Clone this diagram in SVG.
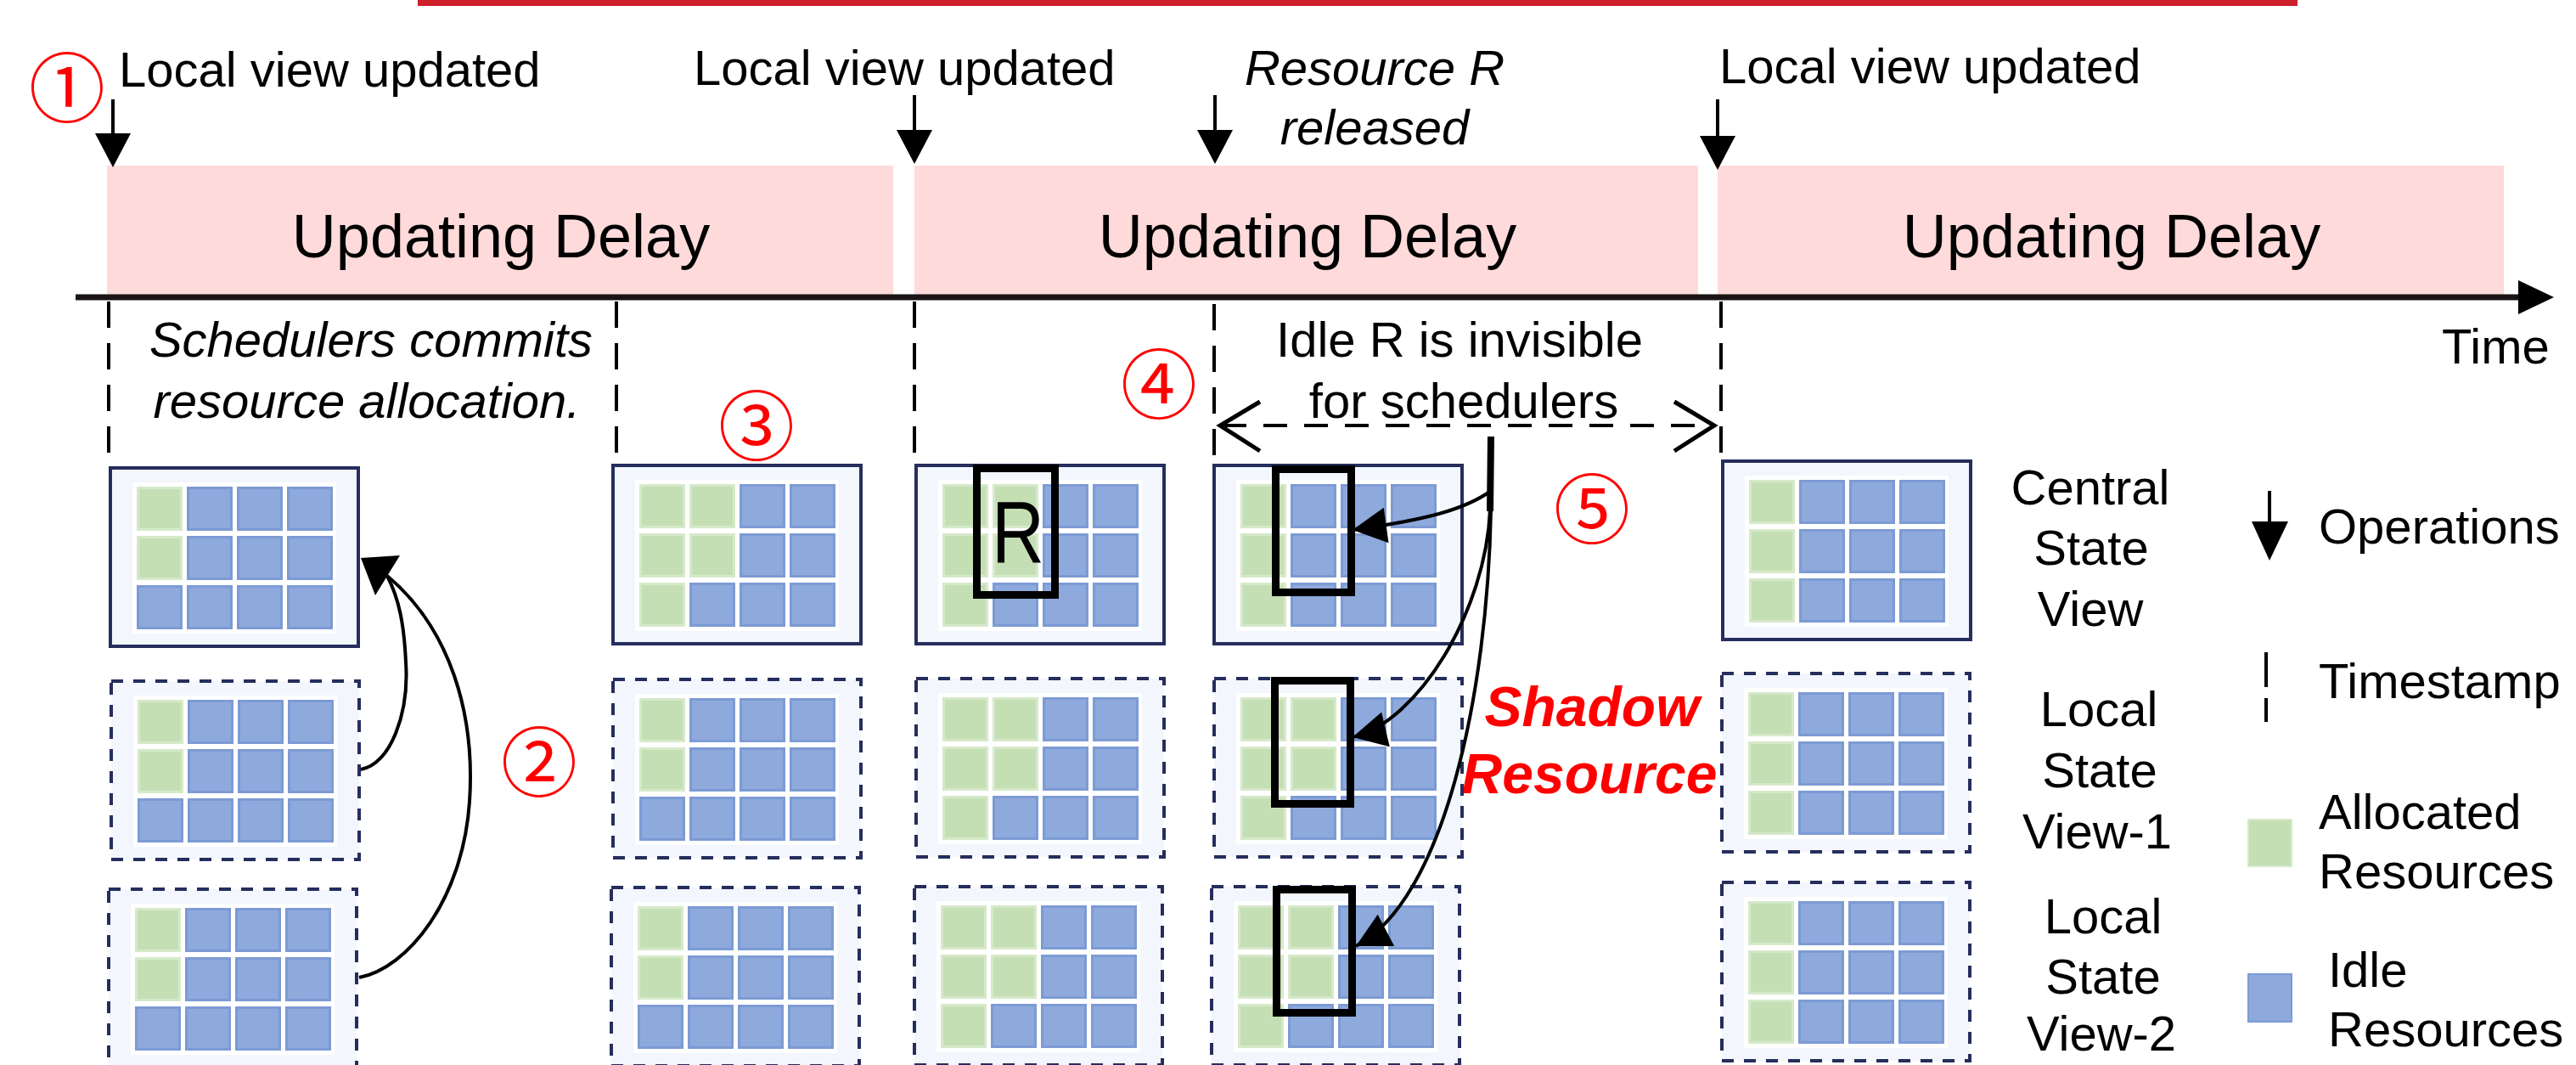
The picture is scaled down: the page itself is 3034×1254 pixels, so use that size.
<svg xmlns="http://www.w3.org/2000/svg" width="3034" height="1254" viewBox="0 0 3034 1254">
<style>
  text { font-family: "Liberation Sans", Arial, sans-serif; fill: #000; }
  .lbl { font-size: 58px; }
  .it { font-style: italic; }
  .mid { text-anchor: middle; }
  .delay { font-size: 72px; text-anchor: middle; }
  .num { font-family: "Noto Sans CJK JP", "Noto Sans CJK SC", sans-serif; font-size: 90px; fill: #FF0000; text-anchor: middle; }
  .shadow { font-size: 66px; font-weight: bold; font-style: italic; fill: #FF0000; text-anchor: middle; }
  .band { fill: #FFDADA; }
  .frame { fill: #F3F6FD; stroke: #252E5C; stroke-width: 4; }
  .frame.local { stroke-dasharray: 14 12; }
  .pad { fill: #FFFFFF; }
  .tick { stroke: #000; stroke-width: 4; stroke-dasharray: 31 18; fill: none; }
  .op { stroke: #000; stroke-width: 4; fill: none; }
  .curve { stroke: #000; stroke-width: 4; fill: none; }
  .mark { fill: none; stroke: #000; stroke-width: 9; }
</style>
<defs>
  <rect id="G" x="1.5" y="1.5" width="51" height="49" fill="#C5DFB4" stroke="#D6E9CA" stroke-width="3"/>
  <rect id="B" x="1.5" y="1.5" width="51" height="49" fill="#8EA9DB" stroke="#7C9BD5" stroke-width="3"/>
  <marker id="head" markerUnits="userSpaceOnUse" markerWidth="50" markerHeight="50" refX="40" refY="21" orient="auto" overflow="visible">
    <path d="M0,0 L40,21 L0,42 z" fill="#000"/>
  </marker>
</defs>

<!-- top rule -->
<rect x="492" y="0" width="2214" height="7" fill="#CD202C"/>

<!-- updating delay bands -->
<g id="delay-1"><rect class="band" x="126" y="195" width="926" height="152"/><text class="delay" x="590" y="303">Updating Delay</text></g>
<g id="delay-2"><rect class="band" x="1077" y="195" width="923" height="152"/><text class="delay" x="1540" y="303">Updating Delay</text></g>
<g id="delay-3"><rect class="band" x="2023" y="195" width="926" height="152"/><text class="delay" x="2487" y="303">Updating Delay</text></g>

<!-- operation labels -->
<g id="op-labels">
  <text class="lbl" x="140" y="102">Local view updated</text>
  <text class="lbl" x="817" y="100">Local view updated</text>
  <text class="lbl it mid" x="1619" y="100">Resource R</text>
  <text class="lbl it mid" x="1619" y="170">released</text>
  <text class="lbl" x="2025" y="98">Local view updated</text>
  <text class="lbl" x="2876" y="428">Time</text>
</g>

<!-- step markers -->
<g id="steps">
  <text class="num" x="79" y="137">①</text>
  <text class="num" x="635" y="931">②</text>
  <text class="num" x="891" y="535">③</text>
  <text class="num" x="1365" y="486">④</text>
  <text class="num" x="1875" y="633">⑤</text>
</g>

<!-- annotations -->
<g id="notes">
  <text class="lbl it mid" x="437" y="420">Schedulers commits</text>
  <text class="lbl it mid" x="432" y="492">resource allocation.</text>
  <text class="lbl mid" x="1719" y="420">Idle R is invisible</text>
  <text class="lbl mid" x="1724" y="492">for schedulers</text>
  <text class="shadow" x="1875" y="855">Shadow</text>
  <text class="shadow" x="1872" y="934">Resource</text>
</g>

<!-- state view boxes -->
<g id="c1-central" transform="translate(128,549)">
  <rect class="frame" x="2" y="2" width="292" height="210"/><rect class="pad" x="28" y="19" width="240" height="178"/>
  <use href="#G" x="33" y="24"/><use href="#B" x="92" y="24"/><use href="#B" x="151" y="24"/><use href="#B" x="210" y="24"/>
  <use href="#G" x="33" y="82"/><use href="#B" x="92" y="82"/><use href="#B" x="151" y="82"/><use href="#B" x="210" y="82"/>
  <use href="#B" x="33" y="140"/><use href="#B" x="92" y="140"/><use href="#B" x="151" y="140"/><use href="#B" x="210" y="140"/>
</g>
<g id="c1-local1" transform="translate(129,800)">
  <rect class="frame local" x="2" y="2" width="292" height="210"/><rect class="pad" x="28" y="19" width="240" height="178"/>
  <use href="#G" x="33" y="24"/><use href="#B" x="92" y="24"/><use href="#B" x="151" y="24"/><use href="#B" x="210" y="24"/>
  <use href="#G" x="33" y="82"/><use href="#B" x="92" y="82"/><use href="#B" x="151" y="82"/><use href="#B" x="210" y="82"/>
  <use href="#B" x="33" y="140"/><use href="#B" x="92" y="140"/><use href="#B" x="151" y="140"/><use href="#B" x="210" y="140"/>
</g>
<g id="c1-local2" transform="translate(126,1045)">
  <rect class="frame local" x="2" y="2" width="292" height="210"/><rect class="pad" x="28" y="19" width="240" height="178"/>
  <use href="#G" x="33" y="24"/><use href="#B" x="92" y="24"/><use href="#B" x="151" y="24"/><use href="#B" x="210" y="24"/>
  <use href="#G" x="33" y="82"/><use href="#B" x="92" y="82"/><use href="#B" x="151" y="82"/><use href="#B" x="210" y="82"/>
  <use href="#B" x="33" y="140"/><use href="#B" x="92" y="140"/><use href="#B" x="151" y="140"/><use href="#B" x="210" y="140"/>
</g>

<g id="c2-central" transform="translate(720,546)">
  <rect class="frame" x="2" y="2" width="292" height="210"/><rect class="pad" x="28" y="19" width="240" height="178"/>
  <use href="#G" x="33" y="24"/><use href="#G" x="92" y="24"/><use href="#B" x="151" y="24"/><use href="#B" x="210" y="24"/>
  <use href="#G" x="33" y="82"/><use href="#G" x="92" y="82"/><use href="#B" x="151" y="82"/><use href="#B" x="210" y="82"/>
  <use href="#G" x="33" y="140"/><use href="#B" x="92" y="140"/><use href="#B" x="151" y="140"/><use href="#B" x="210" y="140"/>
</g>
<g id="c2-local1" transform="translate(720,798)">
  <rect class="frame local" x="2" y="2" width="292" height="210"/><rect class="pad" x="28" y="19" width="240" height="178"/>
  <use href="#G" x="33" y="24"/><use href="#B" x="92" y="24"/><use href="#B" x="151" y="24"/><use href="#B" x="210" y="24"/>
  <use href="#G" x="33" y="82"/><use href="#B" x="92" y="82"/><use href="#B" x="151" y="82"/><use href="#B" x="210" y="82"/>
  <use href="#B" x="33" y="140"/><use href="#B" x="92" y="140"/><use href="#B" x="151" y="140"/><use href="#B" x="210" y="140"/>
</g>
<g id="c2-local2" transform="translate(718,1043)">
  <rect class="frame local" x="2" y="2" width="292" height="210"/><rect class="pad" x="28" y="19" width="240" height="178"/>
  <use href="#G" x="33" y="24"/><use href="#B" x="92" y="24"/><use href="#B" x="151" y="24"/><use href="#B" x="210" y="24"/>
  <use href="#G" x="33" y="82"/><use href="#B" x="92" y="82"/><use href="#B" x="151" y="82"/><use href="#B" x="210" y="82"/>
  <use href="#B" x="33" y="140"/><use href="#B" x="92" y="140"/><use href="#B" x="151" y="140"/><use href="#B" x="210" y="140"/>
</g>

<g id="c3-central" transform="translate(1077,546)">
  <rect class="frame" x="2" y="2" width="292" height="210"/><rect class="pad" x="28" y="19" width="240" height="178"/>
  <use href="#G" x="33" y="24"/><use href="#G" x="92" y="24"/><use href="#B" x="151" y="24"/><use href="#B" x="210" y="24"/>
  <use href="#G" x="33" y="82"/><use href="#G" x="92" y="82"/><use href="#B" x="151" y="82"/><use href="#B" x="210" y="82"/>
  <use href="#G" x="33" y="140"/><use href="#B" x="92" y="140"/><use href="#B" x="151" y="140"/><use href="#B" x="210" y="140"/>
  <rect class="mark" x="73.5" y="5.5" width="92" height="149"/>
  <text x="122" y="117" font-size="104" text-anchor="middle" textLength="62" lengthAdjust="spacingAndGlyphs">R</text>
</g>
<g id="c3-local1" transform="translate(1077,797)">
  <rect class="frame local" x="2" y="2" width="292" height="210"/><rect class="pad" x="28" y="19" width="240" height="178"/>
  <use href="#G" x="33" y="24"/><use href="#G" x="92" y="24"/><use href="#B" x="151" y="24"/><use href="#B" x="210" y="24"/>
  <use href="#G" x="33" y="82"/><use href="#G" x="92" y="82"/><use href="#B" x="151" y="82"/><use href="#B" x="210" y="82"/>
  <use href="#G" x="33" y="140"/><use href="#B" x="92" y="140"/><use href="#B" x="151" y="140"/><use href="#B" x="210" y="140"/>
</g>
<g id="c3-local2" transform="translate(1075,1042)">
  <rect class="frame local" x="2" y="2" width="292" height="210"/><rect class="pad" x="28" y="19" width="240" height="178"/>
  <use href="#G" x="33" y="24"/><use href="#G" x="92" y="24"/><use href="#B" x="151" y="24"/><use href="#B" x="210" y="24"/>
  <use href="#G" x="33" y="82"/><use href="#G" x="92" y="82"/><use href="#B" x="151" y="82"/><use href="#B" x="210" y="82"/>
  <use href="#G" x="33" y="140"/><use href="#B" x="92" y="140"/><use href="#B" x="151" y="140"/><use href="#B" x="210" y="140"/>
</g>

<g id="c4-central" transform="translate(1428,546)">
  <rect class="frame" x="2" y="2" width="292" height="210"/><rect class="pad" x="28" y="19" width="240" height="178"/>
  <use href="#G" x="33" y="24"/><use href="#B" x="92" y="24"/><use href="#B" x="151" y="24"/><use href="#B" x="210" y="24"/>
  <use href="#G" x="33" y="82"/><use href="#B" x="92" y="82"/><use href="#B" x="151" y="82"/><use href="#B" x="210" y="82"/>
  <use href="#G" x="33" y="140"/><use href="#B" x="92" y="140"/><use href="#B" x="151" y="140"/><use href="#B" x="210" y="140"/>
  <rect class="mark" x="74.5" y="6.5" width="89" height="145"/>
</g>
<g id="c4-local1" transform="translate(1428,797)">
  <rect class="frame local" x="2" y="2" width="292" height="210"/><rect class="pad" x="28" y="19" width="240" height="178"/>
  <use href="#G" x="33" y="24"/><use href="#G" x="92" y="24"/><use href="#B" x="151" y="24"/><use href="#B" x="210" y="24"/>
  <use href="#G" x="33" y="82"/><use href="#G" x="92" y="82"/><use href="#B" x="151" y="82"/><use href="#B" x="210" y="82"/>
  <use href="#G" x="33" y="140"/><use href="#B" x="92" y="140"/><use href="#B" x="151" y="140"/><use href="#B" x="210" y="140"/>
  <rect class="mark" x="73.5" y="4.5" width="89" height="145"/>
</g>
<g id="c4-local2" transform="translate(1425,1042)">
  <rect class="frame local" x="2" y="2" width="292" height="210"/><rect class="pad" x="28" y="19" width="240" height="178"/>
  <use href="#G" x="33" y="24"/><use href="#G" x="92" y="24"/><use href="#B" x="151" y="24"/><use href="#B" x="210" y="24"/>
  <use href="#G" x="33" y="82"/><use href="#G" x="92" y="82"/><use href="#B" x="151" y="82"/><use href="#B" x="210" y="82"/>
  <use href="#G" x="33" y="140"/><use href="#B" x="92" y="140"/><use href="#B" x="151" y="140"/><use href="#B" x="210" y="140"/>
  <rect class="mark" x="78.5" y="5.5" width="89" height="145"/>
</g>

<g id="c5-central" transform="translate(2027,541)">
  <rect class="frame" x="2" y="2" width="292" height="210"/><rect class="pad" x="28" y="19" width="240" height="178"/>
  <use href="#G" x="33" y="24"/><use href="#B" x="92" y="24"/><use href="#B" x="151" y="24"/><use href="#B" x="210" y="24"/>
  <use href="#G" x="33" y="82"/><use href="#B" x="92" y="82"/><use href="#B" x="151" y="82"/><use href="#B" x="210" y="82"/>
  <use href="#G" x="33" y="140"/><use href="#B" x="92" y="140"/><use href="#B" x="151" y="140"/><use href="#B" x="210" y="140"/>
</g>
<g id="c5-local1" transform="translate(2026,791)">
  <rect class="frame local" x="2" y="2" width="292" height="210"/><rect class="pad" x="28" y="19" width="240" height="178"/>
  <use href="#G" x="33" y="24"/><use href="#B" x="92" y="24"/><use href="#B" x="151" y="24"/><use href="#B" x="210" y="24"/>
  <use href="#G" x="33" y="82"/><use href="#B" x="92" y="82"/><use href="#B" x="151" y="82"/><use href="#B" x="210" y="82"/>
  <use href="#G" x="33" y="140"/><use href="#B" x="92" y="140"/><use href="#B" x="151" y="140"/><use href="#B" x="210" y="140"/>
</g>
<g id="c5-local2" transform="translate(2026,1037)">
  <rect class="frame local" x="2" y="2" width="292" height="210"/><rect class="pad" x="28" y="19" width="240" height="178"/>
  <use href="#G" x="33" y="24"/><use href="#B" x="92" y="24"/><use href="#B" x="151" y="24"/><use href="#B" x="210" y="24"/>
  <use href="#G" x="33" y="82"/><use href="#B" x="92" y="82"/><use href="#B" x="151" y="82"/><use href="#B" x="210" y="82"/>
  <use href="#G" x="33" y="140"/><use href="#B" x="92" y="140"/><use href="#B" x="151" y="140"/><use href="#B" x="210" y="140"/>
</g>

<!-- row labels -->
<g id="row-labels">
  <text class="lbl mid" x="2462" y="594">Central</text>
  <text class="lbl mid" x="2463" y="665">State</text>
  <text class="lbl mid" x="2462" y="737">View</text>
  <text class="lbl mid" x="2472" y="855">Local</text>
  <text class="lbl mid" x="2473" y="927">State</text>
  <text class="lbl mid" x="2470" y="999">View-1</text>
  <text class="lbl mid" x="2477" y="1099">Local</text>
  <text class="lbl mid" x="2477" y="1170">State</text>
  <text class="lbl mid" x="2475" y="1237">View-2</text>
</g>

<!-- legend -->
<g id="legend">
  <line class="op" x1="2673" y1="578" x2="2673" y2="618"/>
  <polygon points="2652,614 2695,614 2673,660" fill="#000"/>
  <text class="lbl" x="2731" y="640">Operations</text>
  <line x1="2669" y1="768" x2="2669" y2="809" stroke="#000" stroke-width="4"/>
  <line x1="2669" y1="822" x2="2669" y2="850" stroke="#000" stroke-width="4"/>
  <text class="lbl" x="2731" y="822">Timestamp</text>
  <rect x="2648" y="965" width="51" height="55" fill="#C5DFB4" stroke="#D6E9CA" stroke-width="2"/>
  <text class="lbl" x="2731" y="976">Allocated</text>
  <text class="lbl" x="2731" y="1046">Resources</text>
  <rect x="2648" y="1147" width="51" height="56" fill="#8EA9DB" stroke="#7C9BD5" stroke-width="2"/>
  <text class="lbl" x="2742" y="1162">Idle</text>
  <text class="lbl" x="2742" y="1232">Resources</text>
</g>

<!-- connectors -->
<g id="connectors">
  <!-- time axis -->
  <line x1="89" y1="350" x2="2970" y2="350" stroke="#1A1414" stroke-width="7"/>
  <polygon points="2966,330 3008,350 2966,370" fill="#000"/>
  <!-- operation arrows -->
  <line class="op" x1="133" y1="117" x2="133" y2="160"/><polygon points="112,157 154,157 133,197" fill="#000"/>
  <line class="op" x1="1077" y1="112" x2="1077" y2="156"/><polygon points="1056,153 1098,153 1077,193" fill="#000"/>
  <line class="op" x1="1431" y1="112" x2="1431" y2="156"/><polygon points="1410,153 1452,153 1431,193" fill="#000"/>
  <line class="op" x1="2023" y1="117" x2="2023" y2="163"/><polygon points="2002,160 2044,160 2023,200" fill="#000"/>
  <!-- timestamps -->
  <line class="tick" x1="128" y1="355" x2="128" y2="540"/>
  <line class="tick" x1="726" y1="355" x2="726" y2="540"/>
  <line class="tick" x1="1077" y1="355" x2="1077" y2="540"/>
  <line class="tick" x1="1430" y1="358" x2="1430" y2="540"/>
  <line class="tick" x1="2027" y1="355" x2="2027" y2="536"/>
  <!-- invisibility span -->
  <line x1="1440" y1="501" x2="2016" y2="501" stroke="#000" stroke-width="4" stroke-dasharray="28 20"/>
  <polyline points="1484,473 1437,501 1484,531" fill="none" stroke="#000" stroke-width="5"/>
  <polyline points="1972,473 2019,501 1972,531" fill="none" stroke="#000" stroke-width="5"/>
  <!-- commit arrows -->
  <path class="curve" d="M425,906 C460,900 482,840 478,780 C476,735 470,705 456,678"/>
  <path class="curve" d="M423,1151 C480,1140 545,1060 553,944 C560,840 530,740 456,678"/>
  <polygon points="425,657 471,654 442,701" fill="#000"/>
  <!-- shadow resource arrows -->
  <line x1="1756" y1="514" x2="1755" y2="602" stroke="#000" stroke-width="8"/>
  <path class="curve" d="M1756,578 C1725,600 1680,612 1593,624" marker-end="url(#head)"/>
  <path class="curve" d="M1755,600 C1750,720 1670,850 1593,868" marker-end="url(#head)"/>
  <path class="curve" d="M1756,600 C1752,820 1700,1060 1597,1114" marker-end="url(#head)"/>
</g>
</svg>
